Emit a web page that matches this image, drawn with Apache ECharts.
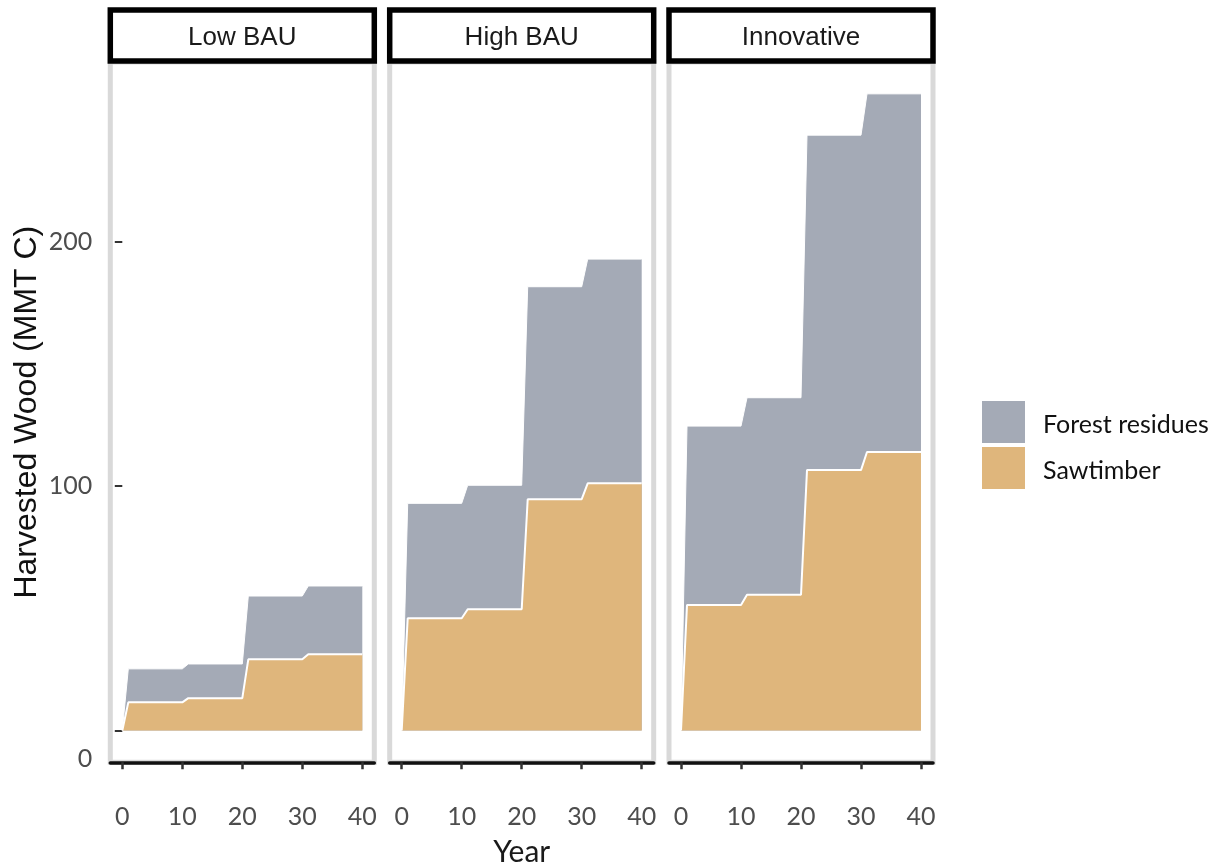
<!DOCTYPE html>
<html>
<head>
<meta charset="utf-8">
<script src="https://cdn.jsdelivr.net/npm/echarts@6/dist/echarts.min.js"></script>
<style>
  html, body { margin: 0; padding: 0; background: #fff; }
  #chart { width: 1214px; height: 867px; }
</style>
</head>
<body>
<div id="chart"></div>
<script>
// Harvested wood carbon by scenario (MMT C): sawtimber with forest residues on top
const scenarios = ['Low BAU', 'High BAU', 'Innovative'];
const seriesNames = ['Forest residues', 'Sawtimber'];
const years = [0, 1, 10, 11, 20, 21, 30, 31, 40];

const sawLow  = [0, 11.5, 11.5, 13.2, 13.2, 29.1, 29.1, 31.2, 31.2];
const resLow  = [0, 13.7, 13.7, 14.0, 14.0, 25.9, 25.9, 27.9, 27.9];
const sawHigh = [0, 45.9, 45.9, 49.6, 49.6, 94.6, 94.6, 101.1, 101.1];
const resHigh = [0, 47.0, 47.0, 50.7, 50.7, 86.9, 86.9, 91.7, 91.7];
const sawInno = [0, 51.3, 51.3, 55.5, 55.5, 106.5, 106.5, 113.9, 113.9];
const resInno = [0, 73.2, 73.2, 80.6, 80.6, 137.0, 137.0, 146.5, 146.5];

const xTicks = [0, 10, 20, 30, 40];
const yTicks = [0, 100, 200];

const sawBy = [sawLow, sawHigh, sawInno];
const resBy = [resLow, resHigh, resInno];

// panel geometry and styling
const PANEL_LEFT = [110.3, 389.7, 669];
const PANEL_W = 264;
const PANEL_TOP = 62;
const PANEL_H = 700.3;
const X_MIN = -2, X_MAX = 42;
const Y_MIN = -13.02, Y_MAX = 273.42;
const GREY = '#a4aab6';
const TAN = '#dfb67c';
const TICK_FONT = 'Lato';

const pairs = (vals) => years.map((yr, i) => [yr, vals[i]]);
// residues sit on top of sawtimber: the grey band's upper edge is the running total
const stackTop = (base, layer) => base.map((v, i) => v + layer[i]);

const grid = [], xAxis = [], yAxis = [], series = [], graphic = [];

scenarios.forEach((name, i) => {
  grid.push({
    left: PANEL_LEFT[i], top: PANEL_TOP, width: PANEL_W, height: PANEL_H,
    outerBoundsMode: 'none', containLabel: false,
    show: true, borderColor: '#d9d9d9', borderWidth: 5, backgroundColor: 'transparent'
  });
  xAxis.push({
    type: 'value', gridIndex: i, min: X_MIN, max: X_MAX,
    axisLine: { show: true, onZero: false, lineStyle: { color: '#111', width: 3.5 } },
    axisTick: { show: true, customValues: xTicks, length: 7, lineStyle: { color: '#333', width: 2.5 } },
    axisLabel: { customValues: xTicks, margin: 42, fontSize: 25, color: '#4d4d4d', fontFamily: TICK_FONT },
    splitLine: { show: false },
    name: i === 1 ? 'Year' : '',
    nameLocation: 'middle', nameGap: 75,
    nameTextStyle: { fontSize: 30, color: '#1a1a1a', fontFamily: TICK_FONT }
  });
  yAxis.push({
    type: 'value', gridIndex: i, min: Y_MIN, max: Y_MAX,
    axisLine: { show: false },
    axisTick: { show: i === 0, customValues: yTicks, length: 7.5, lineStyle: { color: '#333', width: 2 } },
    axisLabel: {
      show: i === 0, customValues: yTicks, margin: 18, fontSize: 25, color: '#4d4d4d',
      fontFamily: TICK_FONT, lineHeight: 56,
      formatter: (v) => (v === 0 ? '\n0' : String(v))
    },
    splitLine: { show: false },
    name: i === 0 ? 'Harvested Wood (MMT C)' : '',
    nameLocation: 'middle', nameGap: 67, nameRotate: 90,
    nameTextStyle: { fontSize: 32, color: '#111', fontFamily: 'Liberation Sans' }
  });
  series.push({
    type: 'line', name: 'Forest residues', xAxisIndex: i, yAxisIndex: i,
    data: pairs(stackTop(sawBy[i], resBy[i])), symbol: 'none', silent: true,
    itemStyle: { color: GREY },
    lineStyle: { color: '#fff', width: 1 },
    areaStyle: { color: GREY, opacity: 1 },
    z: 2
  });
  series.push({
    type: 'line', name: 'Sawtimber', xAxisIndex: i, yAxisIndex: i,
    data: pairs(sawBy[i]), symbol: 'none', silent: true,
    itemStyle: { color: TAN },
    lineStyle: { color: '#fff', width: 2 },
    areaStyle: { color: TAN, opacity: 1 },
    z: 3
  });
  // facet strip
  graphic.push({
    type: 'rect', z: 100,
    shape: { x: PANEL_LEFT[i], y: 10, width: PANEL_W, height: 51 },
    style: { fill: '#fff', stroke: '#000', lineWidth: 5.5 }
  });
  graphic.push({
    type: 'text', z: 101,
    x: PANEL_LEFT[i] + PANEL_W / 2, y: 37.5,
    style: {
      text: name, fill: '#1a1a1a', fontSize: 26, fontFamily: 'Liberation Sans',
      align: 'center', verticalAlign: 'middle'
    }
  });
});

const chart = echarts.init(document.getElementById('chart'), null, { renderer: 'canvas' });
chart.setOption({
  animation: false,
  backgroundColor: '#fff',
  grid, xAxis, yAxis, series, graphic,
  legend: {
    data: seriesNames,
    orient: 'vertical', left: 982, top: 401, padding: 0,
    itemWidth: 43, itemHeight: 42, itemGap: 4, icon: 'rect',
    itemStyle: { borderWidth: 0 },
    selectedMode: false,
    formatter: (n) => '{t|' + n + '}',
    textStyle: {
      fontFamily: TICK_FONT, fontSize: 25, color: '#111',
      rich: { t: { fontFamily: TICK_FONT, fontSize: 25, color: '#111', padding: [6, 0, 0, 13] } }
    }
  }
});
</script>
</body>
</html>
